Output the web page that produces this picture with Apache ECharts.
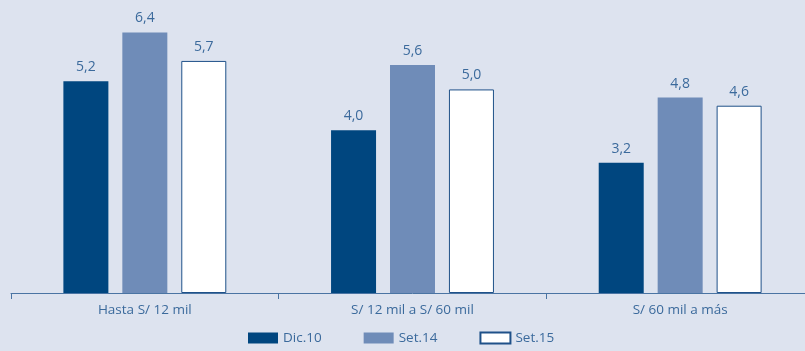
<!DOCTYPE html>
<html><head><meta charset="utf-8">
<script src="https://cdn.jsdelivr.net/npm/echarts@6/dist/echarts.min.js"></script>
<style>html,body{margin:0;padding:0;background:#dde3ef;overflow:hidden;width:805px;height:351px;}#c{width:814px;height:351px;}</style>
</head><body><div id="c"></div>
<script>
var categories = ['Hasta S/ 12 mil', 'S/ 12 mil a S/ 60 mil', 'S/ 60 mil a más'];
var dic10 = [5.2, 4.0, 3.2];
var set14 = [6.4, 5.6, 4.8];
var set15 = [5.7, 5.0, 4.6];
var seriesNames = ['Dic.10', 'Set.14', 'Set.15'];

var chart = echarts.init(document.getElementById('c'));
var font = '"Open Sans", "Noto Sans", sans-serif';
var lbl = {show: true, position: 'top', distance: 7, color: '#3b6a9c', fontSize: 14, fontFamily: font,
  formatter: function(p){ return p.value.toFixed(1).replace('.', ','); }};
chart.setOption({
  backgroundColor: '#dde3ef',
  animation: false,
  grid: {left: 11, right: 0, top: 8, height: 285, containLabel: false},
  legend: {bottom: 1, left: 243, itemWidth: 30, itemHeight: 11, itemGap: 42, icon: 'rect',
    textStyle: {color: '#3b6a9c', fontSize: 13.5, fontFamily: font},
    data: seriesNames},
  xAxis: {type: 'category', data: categories,
    axisLine: {lineStyle: {color: '#4a74a3', width: 1}},
    axisTick: {show: true, length: 6, lineStyle: {color: '#4a74a3'}},
    axisLabel: {color: '#3b6a9c', fontSize: 13.5, fontFamily: font, margin: 10}},
  yAxis: {type: 'value', min: 0, max: 7, show: false, splitLine: {show: false}},
  series: [
    {name: seriesNames[0], type: 'bar', data: dic10, barWidth: 45, barGap: '31%',
      itemStyle: {color: '#00467f'}, label: lbl},
    {name: seriesNames[1], type: 'bar', data: set14, barWidth: 45, barGap: '31%',
      itemStyle: {color: '#6f8cb8'}, label: lbl},
    {name: seriesNames[2], type: 'bar', data: set15, barWidth: 45, barGap: '31%',
      itemStyle: {color: '#ffffff', borderColor: '#1f5189', borderWidth: 1}, label: lbl}
  ]
});
</script></body></html>
